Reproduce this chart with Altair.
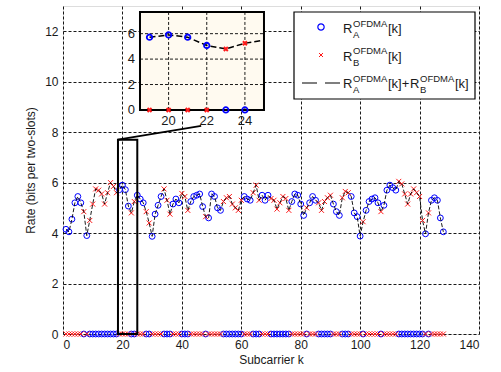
import altair as alt
import pandas as pd

# ---------------- data ----------------
subcarrier = list(range(1, 129))
# which user (A or B) the subcarrier is assigned to
owner = list(
    "AAAAAA" "B" "A" "BBBBBBBBBB" "AAAA" "BB" "AAA" "BB" "AAAA" "BBB" "AAA" "BBB"
    "AAAAA" "B" "AAAAA" "BBBBBBB" "AAA" "BBB" "AAA" "BBBBBBB" "AAAAA" "B" "AAA"
    "BBBBB" "AAA" "BBB" "AAAA" "B" "AAAAA" "B" "AAAAA" "BBBBBBBBB" "A" "B" "AAAAA"
)
# rate on the assigned subcarrier
rate = [
    4.15, 4.05, 4.55, 5.2, 5.45, 5.2, 4.85, 3.9, 4.5, 5.15,
    5.75, 5.7, 5.55, 5.15, 5.6, 6.0, 5.85, 5.6, 5.72, 5.9,
    5.72, 5.07, 4.8, 5.25, 5.5, 5.35, 5.2, 4.85, 4.4, 3.87,
    4.75, 5.1, 5.45, 5.75, 5.3, 4.75, 5.15, 5.35, 5.2, 5.57,
    5.45, 4.9, 5.25, 5.45, 5.5, 5.55, 5.05, 4.65, 4.6, 5.55,
    5.45, 5.0, 4.9, 5.25, 5.4, 5.45, 5.15, 5.0, 4.9, 5.3,
    5.45, 5.35, 5.3, 5.6, 5.9, 5.3, 5.5, 5.3, 5.5, 5.37,
    5.3, 4.95, 5.2, 5.45, 5.37, 4.9, 5.25, 5.55, 5.5, 5.15,
    4.7, 5.0, 5.2, 5.45, 5.3, 5.2, 4.9, 5.25, 5.4, 5.5,
    5.15, 4.85, 4.7, 5.4, 5.65, 5.6, 5.45, 4.8, 4.65, 3.88,
    4.45, 4.9, 5.25, 5.35, 5.4, 5.2, 4.85, 5.1, 5.7, 5.9,
    5.8, 5.7, 6.05, 5.95, 5.55, 5.15, 5.55, 5.75, 5.6, 5.45,
    4.5, 3.97, 4.8, 5.3, 5.4, 5.3, 4.6, 4.05,
]
assert len(owner) == 128 and len(rate) == 128

x_ticks = list(range(0, 141, 20))
y_ticks = list(range(0, 13, 2))
inset_x_ticks = [20, 22, 24]
inset_y_ticks = [0, 2, 4, 6]
inset_domain_k = [18.5, 25.0]
inset_domain_v = [0.0, 7.7]

rate_a = [r if o == "A" else 0.0 for r, o in zip(rate, owner)]
rate_b = [r if o == "B" else 0.0 for r, o in zip(rate, owner)]
df = pd.DataFrame({"k": subcarrier, "ra": rate_a, "rb": rate_b,
                   "tot": [a + b for a, b in zip(rate_a, rate_b)]})

# ---------------- layout constants ----------------
W, H = 416, 328
FONT = "Liberation Sans"
TXT = "#1a1a1a"
XPATH = "M-1,-1L1,1M-1,1L1,-1"
# where the inset sits, in main-axis data units
IX0, IX1 = 25.91, 67.64
IY0, IY1 = 8.88, 12.76
KX0, KX1 = inset_domain_k
VY0, VY1 = inset_domain_v
SX = (IX1 - IX0) / (KX1 - KX0)
SY = (IY1 - IY0) / (VY1 - VY0)


def mx(f):
    return f"{IX0} + (datum.{f} - {KX0}) * {SX}"


def my(f):
    return f"{IY0} + (datum.{f} - {VY0}) * {SY}"


x_scale = alt.Scale(domain=[0, 140], nice=False, zero=False)
y_scale = alt.Scale(domain=[0, 13], nice=False, zero=False)
grid_kw = dict(grid=True, gridDash=[3, 2], gridColor="black", gridOpacity=0.9,
               gridWidth=1, domain=False, ticks=False, labelFontSize=12,
               labelColor=TXT, titleColor=TXT, titleFontSize=12,
               titleFontWeight="normal", format="d", labelFont=FONT, titleFont=FONT)
x_axis = alt.Axis(values=x_ticks, title="Subcarrier k", labelPadding=5,
                  titlePadding=4, **grid_kw)
y_axis = alt.Axis(values=y_ticks, title="Rate (bits per two-slots)",
                  labelPadding=5, titlePadding=7, **grid_kw)


def X(f):
    return alt.X(f, type="quantitative", scale=x_scale, axis=x_axis)


def Y(f):
    return alt.Y(f, type="quantitative", scale=y_scale, axis=y_axis)


def X2(f):
    return alt.X2(f)


def Y2(f):
    return alt.Y2(f)


# ---------------- main data ----------------
circles = alt.Chart(df).mark_point(shape="circle", filled=False, color="#0000ff",
                                   size=34, strokeWidth=1, opacity=1).encode(x=X("k"), y=Y("ra"))
crosses = alt.Chart(df).mark_point(shape=XPATH, filled=False, color="#ff1a1a",
                                   size=25, strokeWidth=1, opacity=1).encode(x=X("k"), y=Y("rb"))
sumline = alt.Chart(df).mark_line(color="black", strokeWidth=0.9,
                                  strokeDash=[4, 2]).encode(x=X("k"), y=Y("tot"))

# ---------------- zoom box & connector ----------------
box_df = pd.DataFrame({"k0": [inset_domain_k[0]], "k1": [inset_domain_k[1]],
                       "v0": [inset_domain_v[0]], "v1": [inset_domain_v[1]]})
zoom_box = alt.Chart(box_df).mark_rect(fillOpacity=0, stroke="black", strokeWidth=2).encode(
    x=X("k0"), x2=X2("k1"), y=Y("v0"), y2=Y2("v1"))
conn_df = pd.DataFrame({"k": [18.5, 46.5], "v": [7.7, 8.25]})
connector = alt.Chart(conn_df).mark_line(color="black", strokeWidth=1.8).encode(
    x=X("k"), y=Y("v"))

# ---------------- inset ----------------
inset_bg = alt.Chart(box_df).transform_calculate(
    X0=mx("k0"), X1=mx("k1"), Y0=my("v0"), Y1=my("v1")
).mark_rect(fill="#fffaf0", stroke="black", strokeWidth=2).encode(
    x=X("X0"), x2=X2("X1"), y=Y("Y0"), y2=Y2("Y1"))

ixt = pd.DataFrame({"t": inset_x_ticks, "v0": inset_domain_v[0], "v1": inset_domain_v[1]})
iyt = pd.DataFrame({"t": inset_y_ticks, "k0": inset_domain_k[0], "k1": inset_domain_k[1]})

inset_vgrid = alt.Chart(ixt).transform_calculate(
    XX=mx("t"), Y0=my("v0"), Y1=my("v1")
).mark_rule(color="black", strokeDash=[3, 2], strokeWidth=0.9).encode(
    x=X("XX"), y=Y("Y0"), y2=Y2("Y1"))
inset_hgrid = alt.Chart(iyt).transform_filter("datum.t > 0").transform_calculate(
    YY=my("t"), X0=mx("k0"), X1=mx("k1")
).mark_rule(color="black", strokeDash=[3, 2], strokeWidth=0.9).encode(
    y=Y("YY"), x=X("X0"), x2=X2("X1"))
inset_xlab = alt.Chart(ixt).transform_calculate(
    XX=mx("t"), YY=my("v0")
).mark_text(font=FONT, fontSize=13, color=TXT, baseline="alphabetic", dy=15).encode(
    x=X("XX"), y=Y("YY"), text=alt.Text("t:Q", format="d"))
inset_ylab = alt.Chart(iyt).transform_calculate(
    XX=mx("k0"), YY=my("t")
).mark_text(font=FONT, fontSize=13, color=TXT, align="right", baseline="middle", dx=-5).encode(
    x=X("XX"), y=Y("YY"), text=alt.Text("t:Q", format="d"))

ins = alt.Chart(df).transform_filter("datum.k >= 19 && datum.k <= 24").transform_calculate(
    XX=mx("k"), YA=my("ra"), YB=my("rb"))
inset_circles = ins.mark_point(shape="circle", filled=False, color="#0000ff", size=30,
                               strokeWidth=1.8, opacity=1).encode(x=X("XX"), y=Y("YA"))
inset_crosses = ins.mark_point(shape=XPATH, filled=False, color="#ff1a1a", size=16,
                               strokeWidth=2, opacity=1).encode(x=X("XX"), y=Y("YB"))
inset_line = alt.Chart(df).transform_filter("datum.k >= 19 && datum.k <= 25").transform_calculate(
    XX=mx("k"), YT=my("tot")
).mark_line(color="black", strokeWidth=1.5, strokeDash=[6, 3]).encode(x=X("XX"), y=Y("YT"))

# ---------------- legend ----------------
one = alt.Data(values=[{}])


def txt(s, x, y, size=13):
    return alt.Chart(one).mark_text(text=s, font=FONT, fontSize=size, color=TXT,
                                    align="left", baseline="alphabetic").encode(
        x=alt.value(x), y=alt.value(y))


leg_box = alt.Chart(one).mark_rect(fill="white", stroke="black", strokeWidth=1.2).encode(
    x=alt.value(231), x2=alt.value(412), y=alt.value(6), y2=alt.value(93))
leg_circle = alt.Chart(one).mark_point(shape="circle", filled=False, color="#0000ff",
                                       size=40, strokeWidth=1.2, opacity=1).encode(
    x=alt.value(258), y=alt.value(21))
leg_cross = alt.Chart(one).mark_point(shape=XPATH, filled=False, color="#ff1a1a",
                                      size=16, strokeWidth=1, opacity=1).encode(
    x=alt.value(258), y=alt.value(49))
leg_line = alt.Chart(one).mark_rule(color="black", strokeWidth=1.2, strokeDash=[15, 8]).encode(
    x=alt.value(239), x2=alt.value(278), y=alt.value(77))

leg_texts = []
for i, sub in enumerate(["A", "B"]):
    b = 27 + 27.5 * i
    leg_texts += [txt("R", 280, b), txt("OFDMA", 290, b - 6.5, 9.5),
                  txt(sub, 290, b + 5, 9.5), txt("[k]", 325, b)]
b = 82
leg_texts += [txt("R", 280, b), txt("OFDMA", 290, b - 6.5, 9.5), txt("A", 290, b + 5, 9.5),
              txt("[k]+", 325, b), txt("R", 347, b), txt("OFDMA", 357, b - 6.5, 9.5),
              txt("B", 357, b + 5, 9.5), txt("[k]", 392, b)]

chart = alt.layer(
    circles, crosses, sumline, zoom_box, connector,
    inset_bg, inset_vgrid, inset_hgrid, inset_line, inset_circles, inset_crosses,
    inset_xlab, inset_ylab,
    leg_box, leg_circle, leg_cross, leg_line, *leg_texts,
).properties(
    width=W, height=H,
    autosize=alt.AutoSizeParams(type="none"),
    padding={"left": 63, "top": 6, "right": 22, "bottom": 38},
).configure_view(stroke="black", strokeWidth=1).configure(background="white")

chart.save("out.html", embed_options={"renderer": "svg", "actions": False})
